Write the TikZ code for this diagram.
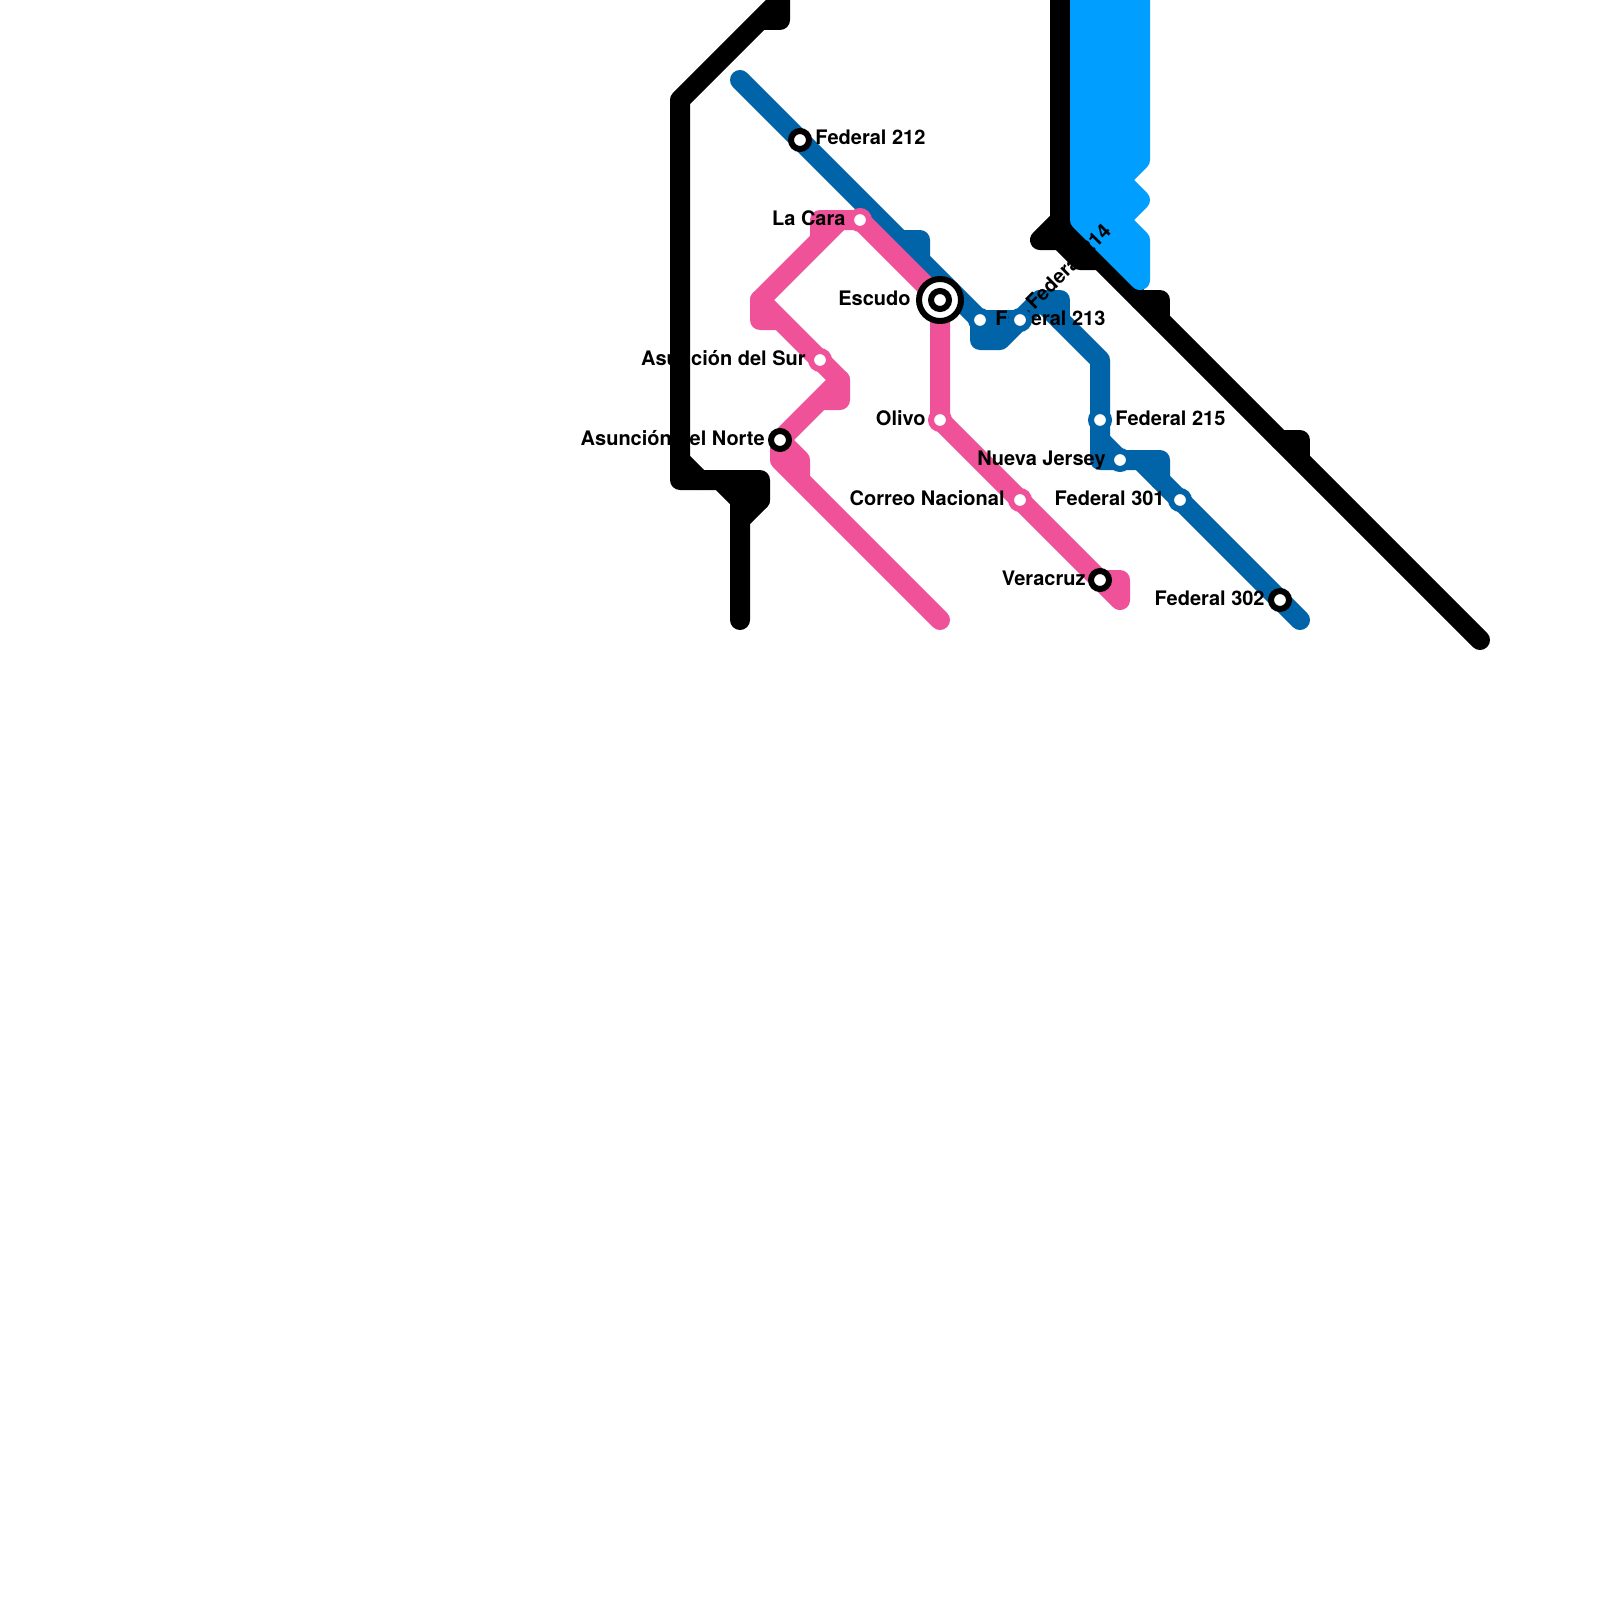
\documentclass[tikz,border=0pt]{standalone}
\usepackage{fontspec}
\setmainfont{TeX Gyre Heros}
\definecolor{lnblack}{RGB}{0,0,0}
\definecolor{lnsky}{RGB}{0,158,255}
\definecolor{lnblue}{RGB}{2,100,168}
\definecolor{lnpink}{RGB}{240,82,154}
\tikzset{
  metro/.style={line width=10pt,line cap=round,line join=round},
  dotbase/.style={circle,inner sep=0pt,minimum size=9pt,line width=3pt,fill=white},
  halted/.style={dotbase,draw=black},
  bigring/.style={circle,inner sep=0pt,minimum size=21pt,line width=3pt,fill=white,draw=black},
  bluedot/.style={dotbase,draw=lnblue},
  pinkdot/.style={dotbase,draw=lnpink},
  lblL/.style={anchor=base east,inner sep=0pt,font=\bfseries\fontsize{10}{12}\selectfont},
  lblR/.style={anchor=base west,inner sep=0pt,font=\bfseries\fontsize{10}{12}\selectfont},
}
\begin{document}
\begin{tikzpicture}[x=0.5pt,y=-0.5pt]
\fill[white] (0,0) rectangle (1600,1600);
\clip (0,0) rectangle (1600,1600);
% station positions
\coordinate (fed212) at (800,140);
\coordinate (lacara) at (860,220);
\coordinate (escudo) at (940,300);
\coordinate (fed213) at (980,320);
\coordinate (fed214) at (1020,320);
\coordinate (fed215) at (1100,420);
\coordinate (nueva) at (1120,460);
\coordinate (fed301) at (1180,500);
\coordinate (fed302) at (1280,600);
\coordinate (asur) at (820,360);
\coordinate (anorte) at (780,440);
\coordinate (olivo) at (940,420);
\coordinate (correo) at (1020,500);
\coordinate (veracruz) at (1100,580);
% black lines
\draw[metro,lnblack] (780,-20) -- (780,20) -- (760,20) -- (780,0) -- (680,100) -- (680,480) -- (760,480) -- (760,500) -- (740,520) -- (740,620);
\draw[metro,lnblack] (680,460) -- (700,480);
\draw[metro,lnblack] (720,480) -- (740,500) -- (740,520);
\draw[metro,lnblack] (760,500) -- (740,500);
\draw[metro,lnblack] (1060,-20) -- (1060,220) -- (1480,640);
\draw[metro,lnblack] (1060,220) -- (1040,240) -- (1060,240) -- (1080,260) -- (1100,260);
\draw[metro,lnblack] (1140,300) -- (1160,300) -- (1160,320);
\draw[metro,lnblack] (1280,440) -- (1300,440) -- (1300,460);
% sky block
\draw[metro,lnsky,fill=lnsky] (1080,-20) -- (1140,-20) -- (1140,160) -- (1120,180) -- (1140,200) -- (1120,220) -- (1140,240) -- (1140,280) -- (1080,220) -- cycle;
% blue line
\draw[metro,lnblue] (740,80) -- (fed212) -- (900,240) -- (920,240) -- (920,260) -- (fed213) -- (980,340) -- (1000,340) -- (fed214) -- (1040,300) -- (1100,360) -- (fed215) -- (1100,460) -- (1160,460) -- (1160,480) -- (fed301) -- (fed302) -- (1300,620);
\draw[metro,lnblue] (900,240) -- (920,260);
\draw[metro,lnblue] (fed213) -- (fed214);
\draw[metro,lnblue] (1040,300) -- (1060,300) -- (1060,320);
\draw[metro,lnblue] (1100,440) -- (nueva);
\draw[metro,lnblue] (1140,460) -- (1160,480);
% pink line
\draw[metro,lnpink] (940,620) -- (800,480) -- (800,460) -- (anorte) -- (780,460) -- (800,480);
\draw[metro,lnpink] (anorte) -- (840,380) -- (840,400) -- (820,400) -- (anorte);
\draw[metro,lnpink] (840,380) -- (asur) -- (760,300) -- (760,320) -- (780,320);
\draw[metro,lnpink] (760,300) -- (840,220) -- (820,220) -- (820,240);
\draw[metro,lnpink] (840,220) -- (lacara) -- (escudo) -- (olivo) -- (correo) -- (veracruz) -- (1120,600) -- (1120,580) -- (veracruz);
% labels
\node[lblR] (t212) at (815,145) {Federal 212};
\node[lblL] (tcara) at (846,225.5) {La Cara};
\node[lblL] (tesc) at (911,305) {Escudo};
\node[lblR] (t213) at (995,325) {Federal 213};
\node[lblR] (t215) at (1115,425) {Federal 215};
\node[lblL] (tnj) at (1106,465) {Nueva Jersey};
\node[lblL] (t301) at (1165,505) {Federal 301};
\node[lblL] (t302) at (1265,605) {Federal 302};
\node[lblL] (tsur) at (806,365) {Asunción del Sur};
\node[lblL] (tnorte) at (765,445) {Asunción del Norte};
\node[lblL] (toli) at (926,425) {Olivo};
\node[lblL] (tcor) at (1005,505) {Correo Nacional};
\node[lblL] (tver) at (1086,585) {Veracruz};
% stations
\node[halted] (s212) at (fed212) {};
\node[pinkdot] (scara) at (lacara) {};
\node[bigring] (sesc) at (escudo) {};
\node[halted] (sescb) at (escudo) {};
\node[bluedot] (s213) at (fed213) {};
\node[bluedot] (s214) at (fed214) {};
\node[bluedot] (s215) at (fed215) {};
\node[bluedot] (snj) at (nueva) {};
\node[bluedot] (s301) at (fed301) {};
\node[halted] (s302) at (fed302) {};
\node[pinkdot] (ssur) at (asur) {};
\node[halted] (snorte) at (anorte) {};
\node[pinkdot] (soli) at (olivo) {};
\node[pinkdot] (scor) at (correo) {};
\node[halted] (sver) at (veracruz) {};
\node[lblR,rotate=45] (t214) at (1034,311) {Federal 214};
\end{tikzpicture}
\end{document}
